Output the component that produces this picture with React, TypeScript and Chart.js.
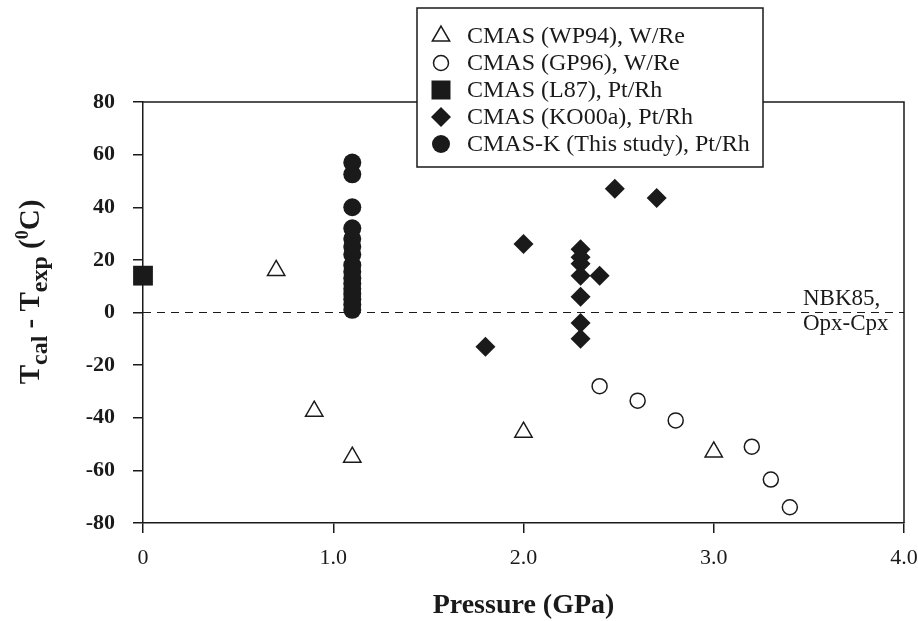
import React, { useEffect, useRef } from "react";
import { Chart, registerables } from "chart.js";

Chart.register(...registerables);

const FONT = '"Liberation Serif", "Times New Roman", serif';
const INK = "#1a1a1a";

// Data
const wp94X = [0.7, 0.9, 1.1, 2.0, 3.0];
const wp94Y = [16, -37.5, -55, -45.5, -53];

const gp96X = [2.4, 2.6, 2.8, 3.2, 3.3, 3.4];
const gp96Y = [-28, -33.5, -41, -51, -63.5, -74];

const l87X = [0];
const l87Y = [14];

const ko00aX = [1.8, 2.0, 2.3, 2.3, 2.3, 2.3, 2.3, 2.3, 2.3, 2.4, 2.48, 2.7];
const ko00aY = [-13, 26, 24, 21, 18.5, 14, 6, -4, -10, 14, 47, 43.5];

const cmaskX = [1.1, 1.1, 1.1, 1.1, 1.1, 1.1, 1.1, 1.1, 1.1, 1.1, 1.1, 1.1, 1.1, 1.1, 1.1, 1.1];
const cmaskY = [57, 52.5, 40, 32, 28, 25, 22, 18, 15.5, 13, 11, 9, 7, 5, 3, 1];

const xTicks = [0, 1, 2, 3, 4];
const xTickLabels = ["0", "1.0", "2.0", "3.0", "4.0"];
const yTicks = [-80, -60, -40, -20, 0, 20, 40, 60, 80];

const legendLabels = [
  "CMAS (WP94), W/Re",
  "CMAS (GP96), W/Re",
  "CMAS (L87), Pt/Rh",
  "CMAS (KO00a), Pt/Rh",
  "CMAS-K (This study), Pt/Rh",
];

const refLabel = ["NBK85,", "Opx-Cpx"];

const pts = (xs: number[], ys: number[]) => xs.map((x, i) => ({ x, y: ys[i] }));

function drawSymbol(ctx: CanvasRenderingContext2D, kind: string, x: number, y: number) {
  ctx.save();
  ctx.lineWidth = 1.5;
  ctx.strokeStyle = INK;
  ctx.fillStyle = INK;
  ctx.beginPath();
  if (kind === "triangle") {
    const r = 10;
    for (let k = 0; k < 3; k++) {
      const a = (k * 2 * Math.PI) / 3;
      const px = x + Math.sin(a) * r;
      const py = y - Math.cos(a) * r;
      if (k === 0) ctx.moveTo(px, py);
      else ctx.lineTo(px, py);
    }
    ctx.closePath();
    ctx.fillStyle = "#fff";
    ctx.fill();
    ctx.stroke();
  } else if (kind === "open") {
    ctx.arc(x, y, 7.5, 0, Math.PI * 2);
    ctx.fillStyle = "#fff";
    ctx.fill();
    ctx.stroke();
  } else if (kind === "square") {
    ctx.rect(x - 9.5, y - 9.5, 19, 19);
    ctx.fill();
  } else if (kind === "diamond") {
    ctx.moveTo(x - 10, y);
    ctx.lineTo(x, y - 10);
    ctx.lineTo(x + 10, y);
    ctx.lineTo(x, y + 10);
    ctx.closePath();
    ctx.fill();
  } else {
    ctx.arc(x, y, 9, 0, Math.PI * 2);
    ctx.fill();
  }
  ctx.restore();
}

const decorPlugin = {
  id: "decor",
  beforeDatasetsDraw(chart: any) {
    const { ctx, chartArea, scales } = chart;
    const y0 = scales.y.getPixelForValue(0);
    ctx.save();
    ctx.strokeStyle = INK;
    ctx.lineWidth = 1;
    ctx.setLineDash([8, 6]);
    ctx.beginPath();
    ctx.moveTo(chartArea.left, y0);
    ctx.lineTo(chartArea.right, y0);
    ctx.stroke();
    ctx.restore();
  },
  afterDraw(chart: any) {
    const { ctx, chartArea, scales } = chart;
    // frame top and right
    ctx.save();
    ctx.strokeStyle = INK;
    ctx.lineWidth = 1.5;
    ctx.beginPath();
    ctx.moveTo(chartArea.left, chartArea.top);
    ctx.lineTo(chartArea.right, chartArea.top);
    ctx.lineTo(chartArea.right, chartArea.bottom);
    ctx.stroke();
    ctx.restore();

    // legend box
    const bx = 417, by = 8, bw = 346, bh = 159;
    ctx.save();
    ctx.fillStyle = "#fff";
    ctx.fillRect(bx, by, bw, bh);
    ctx.strokeStyle = INK;
    ctx.lineWidth = 1.5;
    ctx.strokeRect(bx, by, bw, bh);
    const kinds = ["triangle", "open", "square", "diamond", "filled"];
    ctx.font = `24px ${FONT}`;
    ctx.fillStyle = INK;
    ctx.textBaseline = "middle";
    ctx.textAlign = "left";
    legendLabels.forEach((t, i) => {
      const ry = 36 + i * 27;
      drawSymbol(ctx, kinds[i], 441, ry);
      ctx.fillStyle = INK;
      ctx.fillText(t, 467, ry + 1);
    });
    ctx.restore();

    // reference line label
    const y0 = scales.y.getPixelForValue(0);
    ctx.save();
    ctx.font = `23px ${FONT}`;
    ctx.fillStyle = INK;
    ctx.textAlign = "left";
    ctx.textBaseline = "alphabetic";
    ctx.fillText(refLabel[0], 803, y0 - 8);
    ctx.fillText(refLabel[1], 803, y0 + 17);
    ctx.restore();

    // y title with sub/superscripts
    const parts: { t: string; f: string; dy: number }[] = [
      { t: "T", f: `bold 29px ${FONT}`, dy: 0 },
      { t: "cal", f: `bold 24px ${FONT}`, dy: 8 },
      { t: " - T", f: `bold 29px ${FONT}`, dy: 0 },
      { t: "exp", f: `bold 24px ${FONT}`, dy: 8 },
      { t: " (", f: `bold 29px ${FONT}`, dy: 0 },
      { t: "0", f: `bold 18px ${FONT}`, dy: -11 },
      { t: "C)", f: `bold 29px ${FONT}`, dy: 0 },
    ];
    ctx.save();
    let total = 0;
    const widths = parts.map((p) => {
      ctx.font = p.f;
      const w = ctx.measureText(p.t).width;
      total += w;
      return w;
    });
    ctx.translate(39, 292);
    ctx.rotate(-Math.PI / 2);
    ctx.fillStyle = INK;
    ctx.textBaseline = "alphabetic";
    ctx.textAlign = "left";
    let cx = -total / 2;
    parts.forEach((p, i) => {
      ctx.font = p.f;
      ctx.fillText(p.t, cx, p.dy);
      cx += widths[i];
    });
    ctx.restore();

    // x title
    ctx.save();
    ctx.font = `bold 28px ${FONT}`;
    ctx.fillStyle = INK;
    ctx.textAlign = "center";
    ctx.textBaseline = "alphabetic";
    ctx.fillText("Pressure (GPa)", (chartArea.left + chartArea.right) / 2, 613);
    ctx.restore();
  },
};

export default function App() {
  const ref = useRef<HTMLCanvasElement | null>(null);

  useEffect(() => {
    if (!ref.current) return;
    const common = { clip: false as any, showLine: false };
    const chart = new Chart(ref.current, {
      type: "scatter",
      data: {
        datasets: [
          {
            ...common,
            label: legendLabels[0],
            data: pts(wp94X, wp94Y),
            pointStyle: "triangle",
            pointRadius: 10,
            backgroundColor: "#fff",
            borderColor: INK,
            borderWidth: 1.5,
          },
          {
            ...common,
            label: legendLabels[1],
            data: pts(gp96X, gp96Y),
            pointStyle: "circle",
            pointRadius: 7.5,
            backgroundColor: "#fff",
            borderColor: INK,
            borderWidth: 1.5,
          },
          {
            ...common,
            label: legendLabels[2],
            data: pts(l87X, l87Y),
            pointStyle: "rect",
            pointRadius: 14,
            backgroundColor: INK,
            borderColor: INK,
            borderWidth: 0,
          },
          {
            ...common,
            label: legendLabels[3],
            data: pts(ko00aX, ko00aY),
            pointStyle: "rectRot",
            pointRadius: 10,
            backgroundColor: INK,
            borderColor: INK,
            borderWidth: 0,
          },
          {
            ...common,
            label: legendLabels[4],
            data: pts(cmaskX, cmaskY),
            pointStyle: "circle",
            pointRadius: 9,
            backgroundColor: INK,
            borderColor: INK,
            borderWidth: 0,
          },
        ],
      },
      options: {
        responsive: false,
        animation: false,
        events: [],
        layout: { padding: { top: 102, right: 12, left: 0, bottom: 0 } },
        plugins: {
          legend: { display: false },
          tooltip: { enabled: false },
        },
        scales: {
          x: {
            type: "linear",
            min: 0,
            max: 4,
            afterBuildTicks: (s: any) => {
              s.ticks = xTicks.map((v) => ({ value: v }));
            },
            ticks: {
              callback: (v: any) => xTickLabels[xTicks.indexOf(Number(v))] ?? "",
              font: { family: FONT, size: 22 },
              color: INK,
              padding: 12,
              maxRotation: 0,
            },
            grid: {
              drawOnChartArea: false,
              drawTicks: true,
              tickLength: 10,
              color: INK,
              lineWidth: 1.5,
            },
            border: { display: true, color: INK, width: 1.5 },
            afterFit: (s: any) => {
              s.height = 98;
              s.paddingLeft = 0;
              s.paddingRight = 0;
            },
          },
          y: {
            type: "linear",
            min: -80,
            max: 80,
            afterBuildTicks: (s: any) => {
              s.ticks = yTicks.map((v) => ({ value: v }));
            },
            ticks: {
              font: { family: FONT, size: 22, weight: "bold" },
              color: INK,
              padding: 18,
            },
            grid: {
              drawOnChartArea: false,
              drawTicks: true,
              tickLength: 10,
              color: INK,
              lineWidth: 1.5,
            },
            border: { display: true, color: INK, width: 1.5 },
            afterFit: (s: any) => {
              s.width = 143;
              s.paddingTop = 0;
              s.paddingBottom = 0;
            },
          },
        },
      },
      plugins: [decorPlugin],
    });
    return () => chart.destroy();
  }, []);

  return (
    <div style={{ position: "absolute", left: 0, top: 0, width: 918, height: 621, background: "#fff" }}>
      <canvas ref={ref} width={918} height={621} style={{ width: 918, height: 621, display: "block" }} />
    </div>
  );
}
